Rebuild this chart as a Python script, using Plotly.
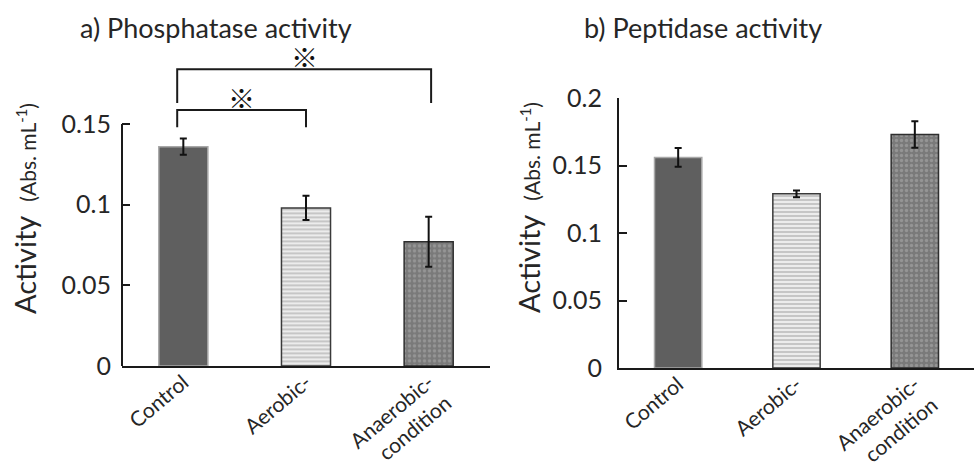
import plotly.graph_objects as go

categories = ["Control", "Aerobic-", "Anaerobic-<br>condition"]
phosphatase = [0.136, 0.098, 0.077]
phosphatase_err = [0.005, 0.0075, 0.0155]
peptidase = [0.156, 0.129, 0.173]
peptidase_err = [0.007, 0.0025, 0.0098]
yticks_a = [0, 0.05, 0.1, 0.15]
yticks_b = [0, 0.05, 0.1, 0.15, 0.2]
ytick_text_a = ["0", "0.05", "0.1", "0.15"]
ytick_text_b = ["0", "0.05", "0.1", "0.15", "0.2"]

FONT = "Lato"
TXT = "#262626"

marker_styles = [
    dict(color="#5f5f5f", line=dict(color="#a8a8a8", width=1.5)),
    dict(color="#e6e6e6", line=dict(color="#3a3a3a", width=1.5),
         pattern=dict(shape="-", fgcolor="#a0a0a0", bgcolor="#ececec", size=4, solidity=0.5)),
    dict(color="#7a7a7a", line=dict(color="#2e2e2e", width=1.5),
         pattern=dict(shape=".", fgcolor="#b0b0b0", bgcolor="#7a7a7a", size=5, solidity=0.35)),
]

fig = go.Figure()
for panel, (vals, errs, xa, ya) in enumerate([(phosphatase, phosphatase_err, "x", "y"),
                                               (peptidase, peptidase_err, "x2", "y2")]):
    for i, cat in enumerate(categories):
        fig.add_trace(go.Bar(
            x=[cat], y=[vals[i]], xaxis=xa, yaxis=ya,
            marker=marker_styles[i], width=0.4,
            error_y=dict(type="data", array=[errs[i]], color="#111111", thickness=2, width=3.5),
            showlegend=False,
        ))

W, H = 974, 464
def px_x(p):
    return p / W
def px_y(p):
    return (H - p) / H

axis_common = dict(showgrid=False, zeroline=False, color=TXT, automargin=False,
                   tickfont=dict(family=FONT, size=25, color=TXT))
xcommon = dict(showgrid=False, zeroline=False, showline=True, linecolor="#1a1a1a", linewidth=2,
               ticks="", tickangle=-40, automargin=False, ticklabelstandoff=-6,
               tickfont=dict(family=FONT, size=21, color=TXT),
               categoryorder="array", categoryarray=categories)

fig.update_layout(
    width=W, height=H, margin=dict(l=0, r=0, t=0, b=0, autoexpand=False),
    plot_bgcolor="white", paper_bgcolor="white", bargap=0.6,
    xaxis=dict(domain=[px_x(122), px_x(490)], anchor="y", range=[-0.5, 2.5], **xcommon),
    xaxis2=dict(domain=[px_x(619), 1.0], anchor="y2", range=[-0.5, 2.5], **xcommon),
    yaxis=dict(domain=[px_y(366), px_y(366 - 0.2 * 1613)], anchor="x", range=[0, 0.2],
               showline=False, ticks="inside", ticklen=8, tickwidth=2, tickcolor="#1a1a1a",
               tickvals=yticks_a, ticktext=ytick_text_a, ticklabelstandoff=10, **axis_common),
    yaxis2=dict(domain=[px_y(368), px_y(98)], anchor="x2", range=[0, 0.2],
                showline=True, linecolor="#1a1a1a", linewidth=2,
                ticks="inside", ticklen=8, tickwidth=2, tickcolor="#1a1a1a",
                tickvals=yticks_b, ticktext=ytick_text_b, ticklabelstandoff=10, **axis_common),
)

# left y axis line (only up to 0.15)
fig.add_shape(type="line", xref="x domain", yref="y", x0=0, x1=0, y0=0, y1=yticks_a[-1],
              line=dict(color="#1a1a1a", width=2))

# significance brackets
brackets = [(0, 1, 0.1587, 0.148, 0.148), (0, 2, 0.184, 0.163, 0.163)]
for a, b, top, ya_, yb_ in brackets:
    xa0 = a - 0.05
    xb0 = b + (0.02 if b == 2 else 0)
    fig.add_shape(type="path", xref="x", yref="y",
                  path=f"M {xa0},{ya_} L {xa0},{top} L {xb0},{top} L {xb0},{yb_}",
                  line=dict(color="#1a1a1a", width=2))
    fig.add_annotation(x=(xa0 + xb0) / 2, y=top, xref="x", yref="y", text="<b>※</b>",
                       showarrow=False, xanchor="center", yanchor="bottom", yshift=-9,
                       font=dict(family="Noto Sans CJK JP", size=27, color="#111111"))

# titles
fig.add_annotation(x=px_x(216), y=px_y(27), xref="paper", yref="paper", text="a) Phosphatase activity",
                   showarrow=False, xanchor="center", yanchor="middle",
                   font=dict(family=FONT, size=27, color=TXT))
fig.add_annotation(x=px_x(703), y=px_y(27), xref="paper", yref="paper", text="b) Peptidase activity",
                   showarrow=False, xanchor="center", yanchor="middle",
                   font=dict(family=FONT, size=27, color=TXT))

ytitle = "Activity  <span style='font-size:21px'>(Abs. mL<sup>-1</sup>)</span>"
fig.add_annotation(x=px_x(24), y=px_y(209), xref="paper", yref="paper", text=ytitle,
                   textangle=-90, showarrow=False, xanchor="center", yanchor="middle",
                   font=dict(family=FONT, size=29, color=TXT))
fig.add_annotation(x=px_x(528), y=px_y(208), xref="paper", yref="paper", text=ytitle,
                   textangle=-90, showarrow=False, xanchor="center", yanchor="middle",
                   font=dict(family=FONT, size=29, color=TXT))

fig.write_html("out.html", post_script="document.body.style.margin='0';",
               config={"displayModeBar": False})
